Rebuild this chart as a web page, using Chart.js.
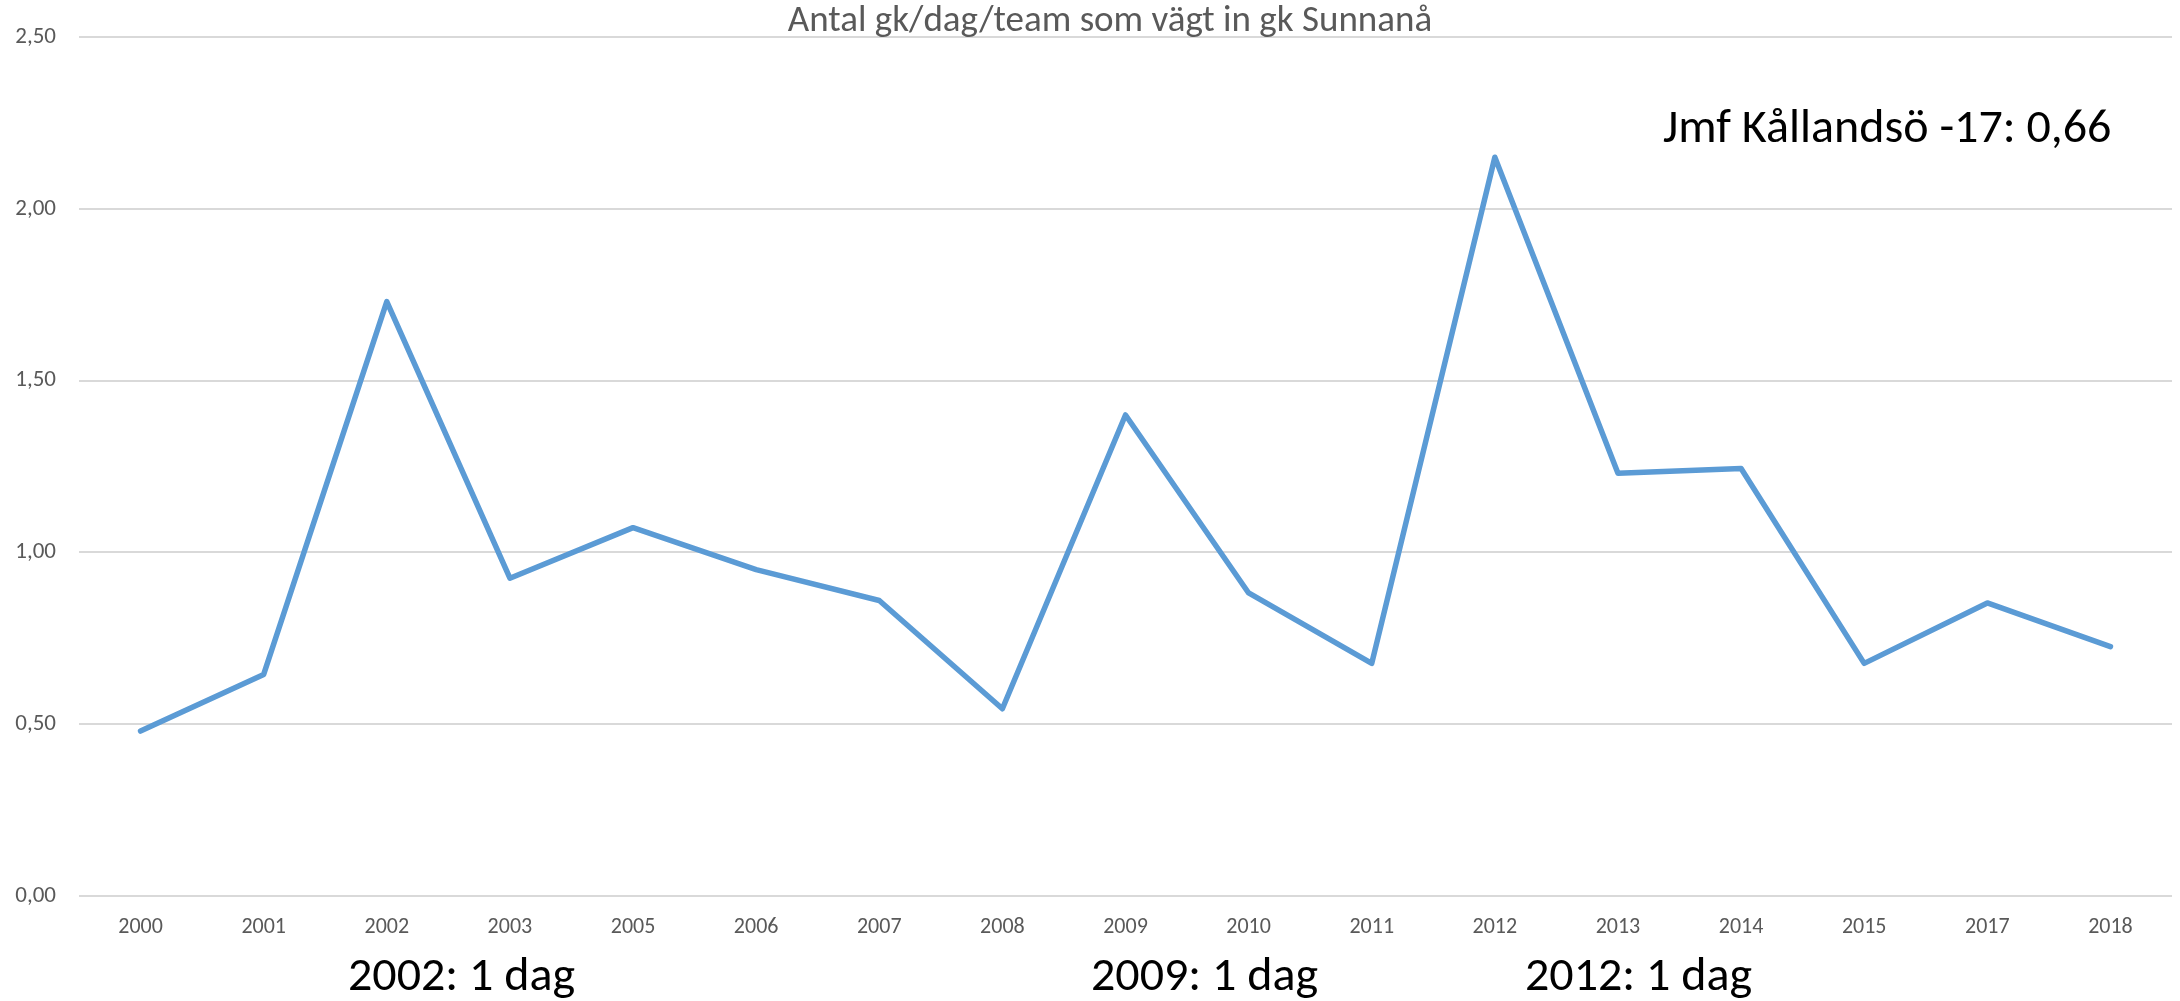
<!DOCTYPE html>
<html>
<head>
<meta charset="utf-8">
<script src="https://cdn.jsdelivr.net/npm/chart.js@4"></script>
<style>
html,body{margin:0;padding:0;background:#fff;}
#wrap{width:2180px;height:1001px;position:relative;}
</style>
</head>
<body>
<div id="wrap"><canvas id="c" width="2180" height="1001"></canvas></div>
<script>
const categories = ["2000","2001","2002","2003","2005","2006","2007","2008","2009","2010","2011","2012","2013","2014","2015","2017","2018"];
const values = [0.48,0.645,1.73,0.925,1.072,0.95,0.86,0.545,1.40,0.882,0.677,2.15,1.23,1.244,0.677,0.853,0.726];
const yTicks = [0, 0.5, 1, 1.5, 2, 2.5];
const titleText = "Antal gk/dag/team som vägt in gk Sunnanå";
const noteText = "Jmf Kållandsö -17: 0,66";
const bottomNotes = ["2002: 1 dag", "2009: 1 dag", "2012: 1 dag"];

const FONT = "Carlito, Lato, 'Open Sans', sans-serif";

const textPlugin = {
  id: 'texts',
  afterDraw(chart) {
    const ctx = chart.ctx;
    ctx.save();
    ctx.textBaseline = 'middle';
    ctx.fillStyle = '#595959';
    ctx.font = "37px " + FONT;
    ctx.textAlign = 'center';
    ctx.fillText(titleText, 1110, 22);
    ctx.fillStyle = '#000000';
    ctx.font = "48px " + FONT;
    ctx.textAlign = 'left';
    ctx.fillText(noteText, 1663, 130);
    ctx.font = "48px " + FONT;
    const xs = [348, 1091, 1525];
    bottomNotes.forEach((t, i) => ctx.fillText(t, xs[i], 978));
    ctx.restore();
  }
};

new Chart(document.getElementById('c'), {
  type: 'line',
  data: {
    labels: categories,
    datasets: [{
      data: values,
      borderColor: '#5b9bd5',
      borderWidth: 5.5,
      pointRadius: 0,
      borderJoinStyle: 'round',
      borderCapStyle: 'round',
      tension: 0,
      fill: false
    }]
  },
  options: {
    responsive: false,
    animation: false,
    devicePixelRatio: 1,
    layout: { padding: { top: 37, right: 8, left: 0, bottom: 0 } },
    plugins: { legend: { display: false }, tooltip: { enabled: false }, title: { display: false } },
    scales: {
      x: {
        offset: true,
        grid: { display: false, drawTicks: false, offset: true },
        border: { display: false },
        ticks: { color: '#595959', font: { family: FONT, size: 22 }, padding: 18, maxRotation: 0, autoSkip: false },
        afterFit(s) { s.height = 105; }
      },
      y: {
        min: 0, max: 2.5,
        afterBuildTicks(s) { s.ticks = yTicks.map(v => ({ value: v })); },
        grid: { color: '#d9d9d9', lineWidth: 2, drawTicks: false },
        border: { display: false },
        ticks: {
          color: '#595959', font: { family: FONT, size: 23 }, padding: 23,
          callback: v => Number(v).toFixed(2).replace('.', ',')
        },
        afterFit(s) { s.width = 79; }
      }
    }
  },
  plugins: [textPlugin]
});
</script>
</body>
</html>
